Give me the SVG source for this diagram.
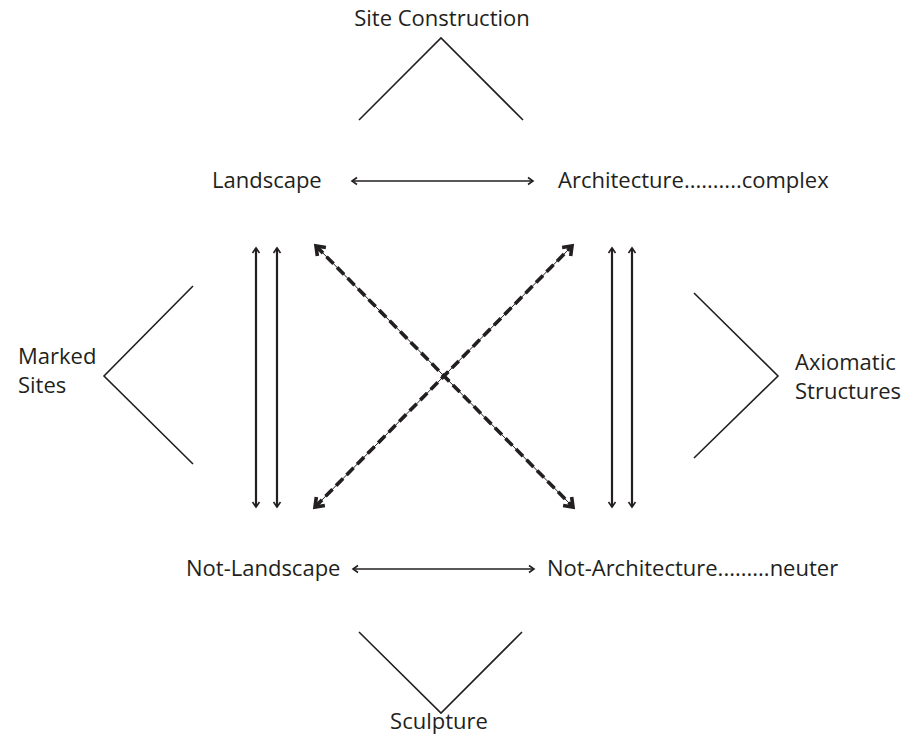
<svg xmlns="http://www.w3.org/2000/svg" width="919" height="736" viewBox="0 0 919 736">
<style>
text{font-family:"Open Sans","Noto Sans",sans-serif;font-size:22px;fill:#231f20}
.ch{fill:none;stroke:#231f20;stroke-width:1.6}
.ar{fill:none;stroke:#231f20;stroke-width:1.5;marker-start:url(#h);marker-end:url(#h)}
.vr{fill:none;stroke:#231f20;stroke-width:2.2;marker-start:url(#h);marker-end:url(#h)}
.dthin{fill:none;stroke:#231f20;stroke-width:1}
.dthick{fill:none;stroke:#231f20;stroke-width:3.6;stroke-dasharray:10 5;marker-start:url(#hd);marker-end:url(#hd)}
</style>
<defs>
<marker id="h" markerUnits="userSpaceOnUse" viewBox="-8 -6 10 12" refX="0" refY="0" markerWidth="10" markerHeight="12" orient="auto-start-reverse" overflow="visible">
<path d="M-5,-3.5 L0,0 L-5,3.5" fill="none" stroke="#231f20" stroke-width="1.6"/>
</marker>
<marker id="hd" markerUnits="userSpaceOnUse" viewBox="-12 -8 14 16" refX="0" refY="0" markerWidth="14" markerHeight="16" orient="auto-start-reverse" overflow="visible">
<path d="M-8,-6 L0,0 L-8,6" fill="none" stroke="#231f20" stroke-width="3.6" stroke-linejoin="miter"/>
</marker>
</defs>
<g id="site-construction">
<text x="442" y="26" text-anchor="middle">Site Construction</text>
<polyline class="ch" points="359,120 441,38 523,120"/>
</g>
<g id="sculpture">
<polyline class="ch" points="359,632 441,713 522,632"/>
<text x="439" y="729" text-anchor="middle">Sculpture</text>
</g>
<g id="marked-sites">
<text x="18" y="364">Marked</text>
<text x="18" y="393">Sites</text>
<polyline class="ch" points="193,286 104,376 193,464"/>
</g>
<g id="axiomatic-structures">
<polyline class="ch" points="694,293 778,376 694,458"/>
<text x="795" y="370">Axiomatic</text>
<text x="795" y="399">Structures</text>
</g>
<g id="landscape"><text x="212" y="188">Landscape</text></g>
<g id="architecture"><text x="558" y="188">Architecture..........complex</text></g>
<g id="not-landscape"><text x="186" y="576">Not-Landscape</text></g>
<g id="not-architecture"><text x="547" y="576">Not-Architecture.........neuter</text></g>
<g id="connectors">
<line class="ar" x1="352" y1="181" x2="533" y2="181"/>
<line class="ar" x1="353" y1="569" x2="534" y2="569"/>
<line class="vr" x1="256" y1="248" x2="256" y2="507"/>
<line class="vr" x1="277" y1="248" x2="277" y2="507"/>
<line class="vr" x1="612" y1="248" x2="612" y2="507"/>
<line class="vr" x1="632" y1="248" x2="632" y2="507"/>
<line class="dthin" x1="316" y1="246" x2="573" y2="507"/>
<line class="dthin" x1="315" y1="507" x2="572" y2="246"/>
<line class="dthick" x1="316" y1="246" x2="573" y2="507"/>
<line class="dthick" x1="315" y1="507" x2="572" y2="246"/>
</g>
</svg>
